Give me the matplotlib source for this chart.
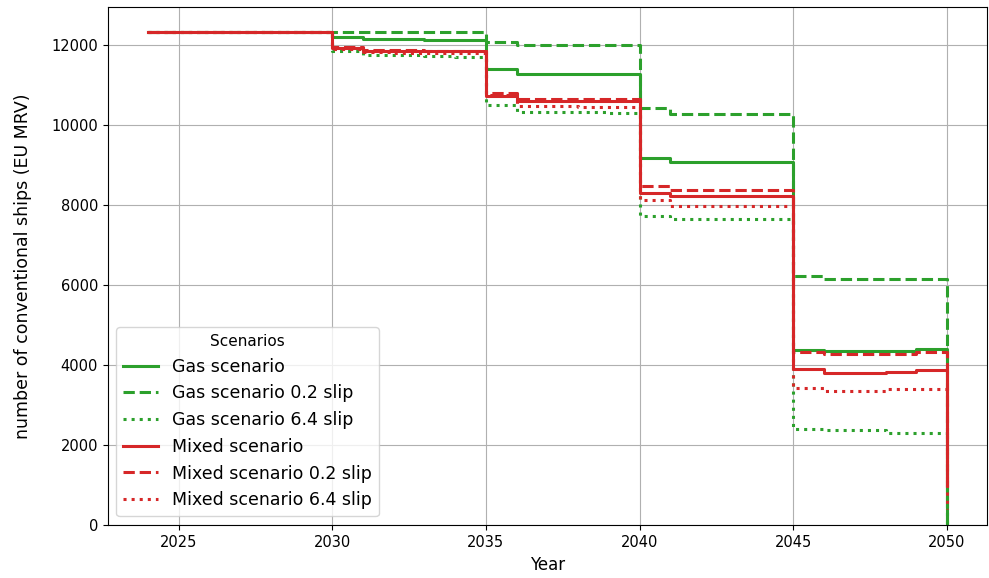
import numpy as np
import matplotlib
matplotlib.use("Agg")
import matplotlib.pyplot as plt

years = np.arange(2024, 2051)

# Number of conventional ships per year (EU MRV fleet) under each scenario
gas = [12333] * 6 + [12210, 12140, 12140, 12130, 12130,
                     11400, 11270, 11270, 11270, 11270,
                     9165, 9075, 9075, 9075, 9075,
                     4375, 4335, 4335, 4335, 4400, 0]
gas_slip_02 = [12333] * 6 + [12333, 12333, 12333, 12333, 12333,
                             12085, 12000, 12000, 12000, 12000,
                             10415, 10275, 10275, 10275, 10275,
                             6225, 6140, 6140, 6140, 6140, 0]
gas_slip_64 = [12333] * 6 + [11860, 11750, 11740, 11720, 11700,
                             10500, 10330, 10320, 10320, 10310,
                             7725, 7650, 7640, 7640, 7640,
                             2390, 2360, 2360, 2300, 2290, 0]
mixed = [12333] * 6 + [11920, 11850, 11845, 11840, 11840,
                       10725, 10610, 10605, 10600, 10600,
                       8290, 8210, 8210, 8210, 8210,
                       3890, 3785, 3785, 3825, 3875, 1000]
mixed_slip_02 = [12333] * 6 + [11950, 11880, 11870, 11860, 11860,
                               10810, 10650, 10640, 10640, 10640,
                               8460, 8375, 8375, 8375, 8375,
                               4325, 4260, 4260, 4260, 4310, 800]
mixed_slip_64 = [12333] * 6 + [11900, 11820, 11800, 11790, 11790,
                               10750, 10480, 10470, 10460, 10460,
                               8125, 7975, 7975, 7975, 7975,
                               3410, 3335, 3335, 3400, 3400, 400]

series = [
    ("Gas scenario", gas, "#2ca02c", "-"),
    ("Gas scenario 0.2 slip", gas_slip_02, "#2ca02c", "--"),
    ("Gas scenario 6.4 slip", gas_slip_64, "#2ca02c", ":"),
    ("Mixed scenario", mixed, "#d62728", "-"),
    ("Mixed scenario 0.2 slip", mixed_slip_02, "#d62728", "--"),
    ("Mixed scenario 6.4 slip", mixed_slip_64, "#d62728", ":"),
]

fig = plt.figure(figsize=(9.89, 5.78), dpi=100)
ax = fig.add_axes([0.109, 0.092, 0.889, 0.896])

for label, values, color, ls in series:
    ax.step(years, values, where="post", color=color, linestyle=ls,
            linewidth=2.2, label=label)

ax.set_ylim(bottom=0)
ax.tick_params(labelsize=10.5)
ax.set_xlabel("Year", fontsize=12, labelpad=5)
ax.set_ylabel("number of conventional ships (EU MRV)", fontsize=12.5, labelpad=14)
ax.grid(True)
ax.legend(title="Scenarios", loc="lower left", fontsize=12.5, title_fontsize=11)

fig.savefig("out.png", dpi=100)
